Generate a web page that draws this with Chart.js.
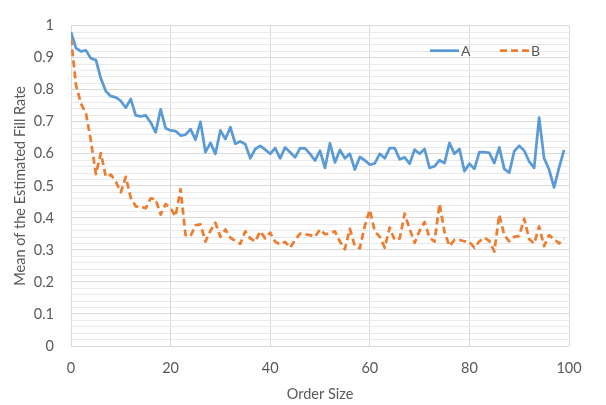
<!DOCTYPE html>
<html>
<head>
<meta charset="utf-8">
<script src="https://cdn.jsdelivr.net/npm/chart.js@4/dist/chart.umd.min.js"></script>
<style>
  html, body { margin: 0; padding: 0; background: #fff; }
  #wrap { width: 606px; height: 405px; }
</style>
</head>
<body>
<div id="wrap"><canvas id="chart"></canvas></div>
<script>
const orderSize = [
  0, 1, 2, 3, 4, 5, 6, 7, 8, 9, 10, 11, 12, 13, 14, 15, 16, 17, 18, 19,
  20, 21, 22, 23, 24, 25, 26, 27, 28, 29, 30, 31, 32, 33, 34, 35, 36, 37, 38, 39,
  40, 41, 42, 43, 44, 45, 46, 47, 48, 49, 50, 51, 52, 53, 54, 55, 56, 57, 58, 59,
  60, 61, 62, 63, 64, 65, 66, 67, 68, 69, 70, 71, 72, 73, 74, 75, 76, 77, 78, 79,
  80, 81, 82, 83, 84, 85, 86, 87, 88, 89, 90, 91, 92, 93, 94, 95, 96, 97, 98, 99
];

const seriesA = [
  0.98, 0.93, 0.92, 0.923, 0.898, 0.893, 0.835, 0.795, 0.78, 0.776,
  0.765, 0.744, 0.771, 0.72, 0.717, 0.72, 0.698, 0.667, 0.739, 0.68,
  0.673, 0.671, 0.657, 0.66, 0.677, 0.644, 0.70, 0.605, 0.634, 0.60,
  0.673, 0.646, 0.683, 0.631, 0.639, 0.63, 0.586, 0.615, 0.625, 0.613,
  0.60, 0.618, 0.586, 0.62, 0.605, 0.589, 0.618, 0.617, 0.60, 0.579,
  0.61, 0.556, 0.633, 0.573, 0.612, 0.586, 0.60, 0.551, 0.59, 0.58,
  0.566, 0.57, 0.60, 0.586, 0.618, 0.618, 0.583, 0.589, 0.569, 0.613,
  0.60, 0.615, 0.556, 0.561, 0.58, 0.571, 0.634, 0.60, 0.615, 0.546,
  0.569, 0.553, 0.605, 0.605, 0.603, 0.571, 0.62, 0.553, 0.541, 0.608,
  0.625, 0.61, 0.576, 0.556, 0.713, 0.586, 0.551, 0.495, 0.556, 0.612
];

const seriesB = [
  0.96, 0.815, 0.757, 0.727, 0.64, 0.537, 0.602, 0.528, 0.535, 0.513,
  0.48, 0.528, 0.463, 0.436, 0.435, 0.43, 0.461, 0.458, 0.41, 0.443,
  0.43, 0.405, 0.49, 0.346, 0.343, 0.377, 0.38, 0.326, 0.36, 0.385,
  0.341, 0.364, 0.338, 0.328, 0.319, 0.358, 0.336, 0.326, 0.358, 0.336,
  0.354, 0.326, 0.317, 0.325, 0.307, 0.331, 0.351, 0.349, 0.346, 0.341,
  0.364, 0.349, 0.351, 0.358, 0.326, 0.302, 0.366, 0.312, 0.305, 0.375,
  0.425, 0.358, 0.341, 0.307, 0.37, 0.331, 0.336, 0.413, 0.366, 0.322,
  0.36, 0.387, 0.338, 0.326, 0.444, 0.356, 0.312, 0.331, 0.331, 0.327,
  0.325, 0.307, 0.327, 0.338, 0.328, 0.295, 0.41, 0.346, 0.327, 0.341,
  0.344, 0.397, 0.334, 0.32, 0.373, 0.312, 0.346, 0.334, 0.32, 0.334
];

const seriesNames = ['A', 'B'];
const xTitle = 'Order Size';
const yTitle = 'Mean of the Estimated Fill Rate';

const textColor = '#595959';
const fontFamily = 'Lato, "Open Sans", sans-serif';

// legend sits inside the plot, top right, like the Excel original
const insideLegend = {
  id: 'insideLegend',
  afterDraw(chart) {
    const ctx = chart.ctx;
    const area = chart.chartArea;
    const y = area.top + 25;
    let x = area.right - 139;
    ctx.save();
    ctx.font = '14px ' + fontFamily;
    ctx.textBaseline = 'middle';
    chart.data.datasets.forEach(ds => {
      ctx.strokeStyle = ds.borderColor;
      ctx.lineWidth = ds.borderWidth;
      ctx.setLineDash(ds.borderDash || []);
      ctx.beginPath();
      ctx.moveTo(x, y);
      ctx.lineTo(x + 29, y);
      ctx.stroke();
      ctx.setLineDash([]);
      ctx.fillStyle = textColor;
      ctx.fillText(ds.label, x + 31, y + 1);
      x += 70;
    });
    ctx.restore();
  }
};

const toPoints = vals => vals.map((v, i) => ({ x: orderSize[i], y: v }));

new Chart(document.getElementById('chart'), {
  type: 'line',
  data: {
    datasets: [
      {
        label: seriesNames[0],
        data: toPoints(seriesA),
        borderColor: '#5B9BD5',
        borderWidth: 2.75,
        pointRadius: 0,
        tension: 0,
        borderJoinStyle: 'round'
      },
      {
        label: seriesNames[1],
        data: toPoints(seriesB),
        borderColor: '#ED7D31',
        borderWidth: 2.75,
        borderDash: [7, 4],
        pointRadius: 0,
        tension: 0,
        borderJoinStyle: 'round'
      }
    ]
  },
  options: {
    responsive: true,
    maintainAspectRatio: false,
    animation: false,
    layout: { padding: { top: 7, right: 37, left: 0, bottom: 0 } },
    plugins: {
      legend: { display: false },
      tooltip: { enabled: false }
    },
    scales: {
      x: {
        type: 'linear',
        min: 0,
        max: 100,
        ticks: {
          stepSize: 20,
          color: textColor,
          font: { family: fontFamily, size: 14.5 },
          padding: 14,
          maxRotation: 0
        },
        grid: { color: '#d9d9d9', lineWidth: 1, drawTicks: false },
        border: { display: false },
        title: {
          display: true,
          text: xTitle,
          color: textColor,
          font: { family: fontFamily, size: 14.5 },
          padding: { top: 0, bottom: 2 }
        },
        afterFit(scale) { scale.height = 59; }
      },
      y: {
        min: 0,
        max: 1,
        ticks: {
          stepSize: 0.02,
          autoSkip: false,
          color: textColor,
          font: { family: fontFamily, size: 14.5 },
          padding: 17,
          callback(v) {
            const r = Math.round(v * 50);
            return r % 5 === 0 ? String(Number((r / 50).toFixed(1))) : '';
          }
        },
        grid: {
          drawTicks: false,
          lineWidth: 1,
          color(c) {
            const r = Math.round(c.tick.value * 50);
            return r % 5 === 0 ? '#d9d9d9' : '#e9e9e9';
          }
        },
        border: { display: false },
        title: {
          display: true,
          text: yTitle,
          color: textColor,
          font: { family: fontFamily, size: 14.5 },
          padding: { top: 12, bottom: 0 }
        },
        afterFit(scale) { scale.width = 71; }
      }
    }
  },
  plugins: [insideLegend]
});
</script>
</body>
</html>
